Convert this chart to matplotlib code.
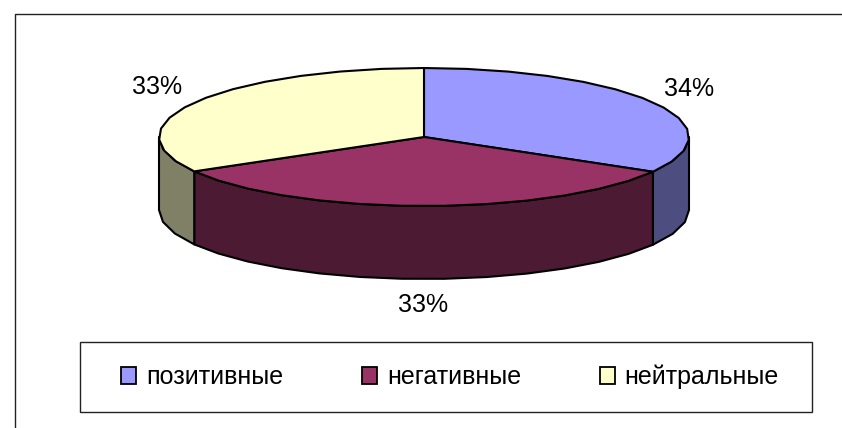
import numpy as np
import matplotlib
matplotlib.use("Agg")
import matplotlib.pyplot as plt
from matplotlib.patches import Patch, Rectangle

plt.rcParams['font.family'] = ['Liberation Sans', 'DejaVu Sans']

# data
categories = ['позитивные', 'негативные', 'нейтральные']
shares = [33.4, 33.3, 33.3]
pct_labels = ['34%', '33%', '33%']
top_colors = ['#9999FF', '#993366', '#FFFFCC']
side_colors = ['#4D4D80', '#4D1A33', '#808066']

# pixel layout of the tilted pie
cx, cy = 424, 137
rx, ry = 265, 69
depth = 73
step = 9  # the original outline is coarse, keep it a bit polygonal


def rim(a, b):
    n = max(int(abs(b - a) / step), 1)
    t = np.radians(np.linspace(a, b, n + 1))
    return cx + rx * np.sin(t), cy - ry * np.cos(t)


fig = plt.figure(figsize=(8.42, 4.28), dpi=100)
ax = fig.add_axes([0, 0, 1, 1])
ax.set_xlim(0, 842)
ax.set_ylim(428, 0)
ax.axis('off')

# chart frame, only top and left are inside the crop
ax.plot([15, 15, 842], [428, 14, 14], color='#222222', lw=1.0)

edges = np.cumsum([0] + shares) / sum(shares) * 360

# side walls, only the front half (90..270 deg) shows
for i in range(len(shares)):
    a = max(edges[i], 90)
    b = min(edges[i + 1], 270)
    if a >= b:
        continue
    x, y = rim(a, b)
    ax.fill(np.r_[x, x[::-1]], np.r_[y, y[::-1] + depth],
            facecolor=side_colors[i], edgecolor='black', lw=1.5, joinstyle='round', zorder=2)

# top face
for i in range(len(shares)):
    x, y = rim(edges[i], edges[i + 1])
    ax.fill(np.r_[cx, x], np.r_[cy, y],
            facecolor=top_colors[i], edgecolor='black', lw=1.5, joinstyle='round', zorder=3)

label_pos = [(689, 89), (423, 305), (157, 87)]
for txt, (lx, ly) in zip(pct_labels, label_pos):
    ax.text(lx, ly, txt, fontsize=18, ha='center', va='center', color='black', zorder=4)

# legend box
ax.add_patch(Rectangle((80, 342), 732, 70, facecolor='white', edgecolor='#222222', lw=1.0, zorder=1))
handles = [Patch(facecolor=c, edgecolor='black', lw=1.3) for c in top_colors]
ax.legend(handles, categories, loc='center', bbox_to_anchor=(450, 377), bbox_transform=ax.transData,
          ncol=3, frameon=False, fontsize=18, handlelength=0.6, handleheight=0.66,
          handletextpad=0.4, columnspacing=3.15, borderpad=0, borderaxespad=0)

fig.savefig('out.png', dpi=100)
